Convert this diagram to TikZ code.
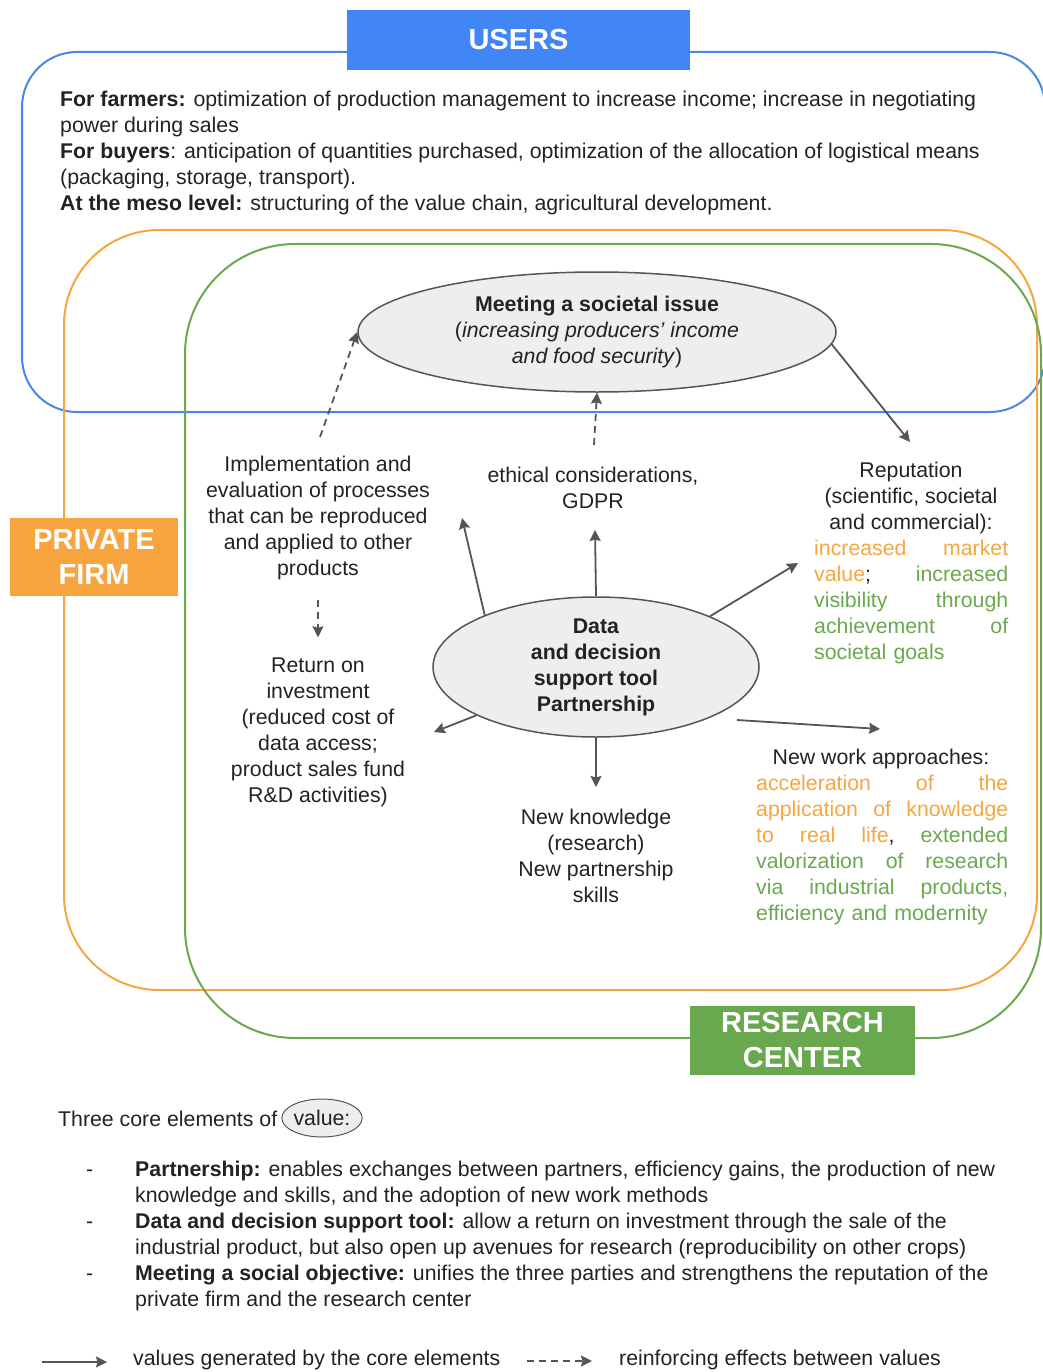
\documentclass[tikz,border=0pt]{standalone}
\usepackage{fontspec}
\setmainfont{Liberation Sans}
\usetikzlibrary{shapes.geometric,arrows.meta}
\definecolor{txt}{HTML}{222222}
\definecolor{ublue}{HTML}{4A86E8}
\definecolor{ubluebox}{HTML}{4285F4}
\definecolor{orng}{HTML}{F6A53F}
\definecolor{grn}{HTML}{6AA84F}
\definecolor{elfill}{HTML}{EEEEEE}
\definecolor{arr}{HTML}{555555}
\newcommand{\og}[1]{\textcolor{orng}{#1}}
\newcommand{\gn}[1]{\textcolor{grn}{#1}}
\begin{document}
\begin{tikzpicture}[x=1pt,y=-1pt,
  body/.style={font=\fontsize{21.3}{26}\selectfont, text=txt, inner sep=0pt},
  ell/.style={ellipse, draw=arr, fill=elfill, line width=1.5pt, inner sep=0pt, align=center, font=\fontsize{21.3}{26}\selectfont, text=txt},
  tagbox/.style={text=white, font=\bfseries\fontsize{29}{35}\selectfont, align=center, inner sep=0pt},
  genarrow/.style={draw=arr, line width=1.8pt, -{Stealth[length=11pt,width=11pt,inset=1.5pt]}},
  reinfarrow/.style={genarrow, dash pattern=on 7pt off 5pt}]
\useasboundingbox (0,0) rectangle (1043,1372);
% containers
\draw[ublue, line width=2pt, rounded corners=55pt] (22,52) rectangle (1045,412);
\draw[orng, line width=2pt, rounded corners=95pt] (64,230) rectangle (1037,990);
\draw[grn, line width=2pt, rounded corners=110pt] (185,244) rectangle (1041,1038);
% tags
\node[tagbox, fill=ubluebox, minimum width=343pt, minimum height=60pt] (users) at (518.5,40) {USERS};
\node[tagbox, fill=orng, minimum width=168pt, minimum height=78pt] (pf) at (94,557) {PRIVATE\\FIRM};
\node[tagbox, fill=grn, minimum width=225pt, minimum height=69pt] (rc) at (802.5,1040.5) {RESEARCH\\CENTER};
% users text
\node[body, anchor=north west, align=left] (utext) at (60,91) {%
\textbf{For farmers:} optimization of production management to increase income; increase in negotiating\\
power during sales\\
\textbf{For buyers}: anticipation of quantities purchased, optimization of the allocation of logistical means\\
(packaging, storage, transport).\\
\textbf{At the meso level:} structuring of the value chain, agricultural development.};
% ellipses
\node[ell, minimum width=478pt, minimum height=120pt] (soc) at (597,332) {%
\textbf{Meeting a societal issue}\\(\textit{increasing producers' income}\\\textit{and food security})};
\node[ell, minimum width=326pt, minimum height=140pt] (core) at (596,667) {%
\textbf{Data}\\\textbf{and decision}\\\textbf{support tool}\\\textbf{Partnership}};
% value texts
\node[body, align=center] (impl) at (318,518) {Implementation and\\evaluation of processes\\that can be reproduced\\and applied to other\\products};
\node[body, align=center] (eth) at (593,488) {ethical considerations,\\GDPR};
\node[body, align=center] (rep) at (911,498) {Reputation\\(scientific, societal\\and commercial):};
\node[body, align=left, text width=194pt, anchor=west] (repv) at (814,602) {%
\og{increased}\hfill\og{market}\\
\og{value}; \hfill\gn{increased}\\
\gn{visibility}\hfill\gn{through}\\
\gn{achievement}\hfill\gn{of}\\
\gn{societal goals}};
\node[body, align=center] (roi) at (318,732) {Return on\\investment\\(reduced cost of\\data access;\\product sales fund\\R\&D activities)};
\node[body, align=center] (know) at (596,855.5) {New knowledge\\(research)\\New partnership\\skills};
\node[body] (nwa) at (881,759) {New work approaches:};
\node[body, align=left, text width=252pt, anchor=west] (nwav) at (756,849.5) {%
\og{acceleration}\hfill\og{of}\hfill\og{the}\\
\og{application}\hfill\og{of}\hfill\og{knowledge}\\
\og{to}\hfill\og{real}\hfill\og{life},\hfill\gn{extended}\\
\gn{valorization}\hfill\gn{of}\hfill\gn{research}\\
\gn{via}\hfill\gn{industrial}\hfill\gn{products,}\\
\gn{efficiency and modernity}};
% connectors
\coordinate (a1) at (462,518);
\coordinate (a2) at (595,530);
\coordinate (a3) at (798,563);
\coordinate (a4s) at (737,720);
\coordinate (a4) at (880,729);
\coordinate (a5) at (596,787);
\coordinate (a6) at (434,732);
\coordinate (a7) at (910,442);
\coordinate (d1) at (320,437);
\coordinate (d2) at (594,445);
\draw[genarrow] (core.155) -- (a1);
\draw[genarrow] (core.north) -- (a2);
\draw[genarrow] (core.24) -- (a3);
\draw[genarrow] (a4s) -- (a4);
\draw[genarrow] (core.south) -- (a5);
\draw[genarrow] (core.202) -- (a6);
\draw[genarrow] (soc.-3) -- (a7);
\draw[reinfarrow] (d1) -- (soc.west);
\draw[reinfarrow] (d2) -- (soc.south);
\draw[reinfarrow, shorten <=20pt, shorten >=20pt] (impl.south) -- (roi.north);
% bottom
\node[body, anchor=west] (three) at (58,1119) {Three core elements of};
\node[ell, minimum width=74pt, minimum height=38pt, line width=1pt] (valel) at (322,1118) {value:};
\node[body, anchor=north west, align=left] (list) at (86,1161) {%
\makebox[49pt][l]{-}\textbf{Partnership:} enables exchanges between partners, efficiency gains, the production of new\\
\hspace*{49pt}knowledge and skills, and the adoption of new work methods\\
\makebox[49pt][l]{-}\textbf{Data and decision support tool:} allow a return on investment through the sale of the\\
\hspace*{49pt}industrial product, but also open up avenues for research (reproducibility on other crops)\\
\makebox[49pt][l]{-}\textbf{Meeting a social objective:} unifies the three parties and strengthens the reputation of the\\
\hspace*{49pt}private firm and the research center};
\coordinate (l1s) at (42,1362);
\coordinate (l1e) at (107,1362);
\coordinate (l2s) at (527,1361);
\coordinate (l2e) at (592,1361);
\draw[genarrow] (l1s) -- (l1e);
\node[body, anchor=west] (leg1) at (133,1360) {values generated by the core elements};
\draw[reinfarrow] (l2s) -- (l2e);
\node[body, anchor=west] (leg2) at (619,1360) {reinforcing effects between values};
\end{tikzpicture}
\end{document}
